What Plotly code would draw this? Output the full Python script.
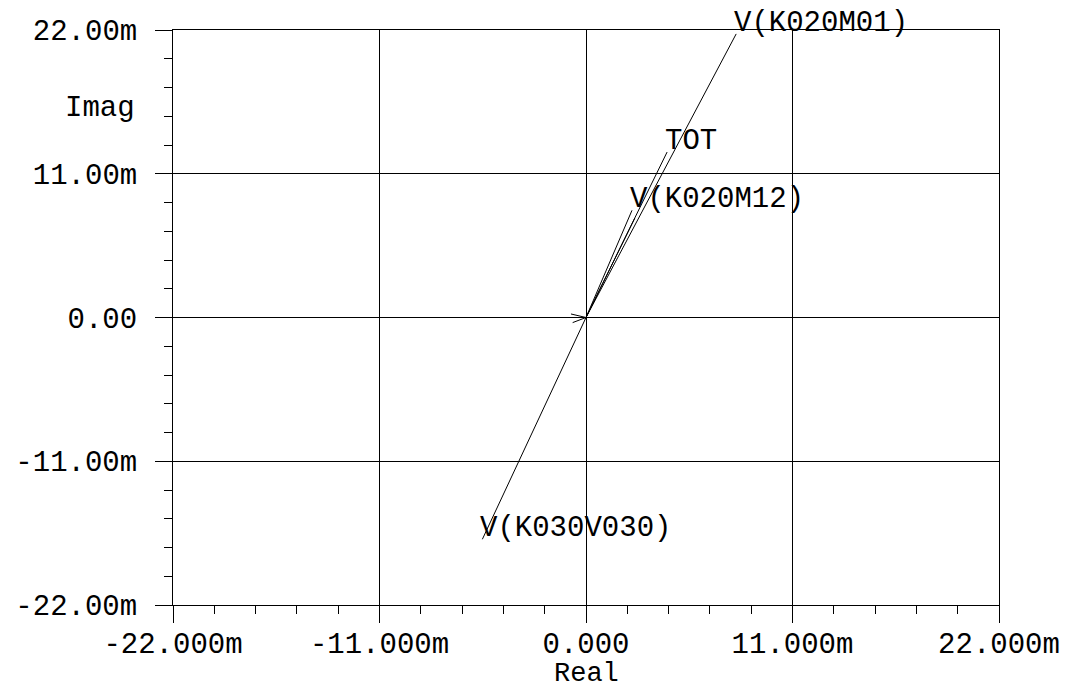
import plotly.graph_objects as go

# Phasor end points (units: milli-volts, "m")
vector_names = ["V(K020M01)", "TOT", "V(K020M12)", "", "V(K030V030)"]
vector_real = [8.0, 4.32, 2.45, 2.6, -5.52]
vector_imag = [21.7, 12.66, 8.2, 7.6, -16.97]

# small chevron drawn at the origin
origin_mark_real = [-0.8, 0.0, -0.71]
origin_mark_imag = [0.27, 0.0, -0.39]

x_tickvals = [-22, -11, 0, 11, 22]
x_ticktext = ["-22.000m", "-11.000m", "0.000", "11.000m", "22.000m"]
y_tickvals = [-22, -11, 0, 11, 22]
y_ticktext = ["-22.00m", "-11.00m", "0.00", "11.00m", "22.00m"]

FONT = "Liberation Mono, Courier New, monospace"
FS = 29

fig = go.Figure()
for name, xr, yi in zip(vector_names, vector_real, vector_imag):
    fig.add_trace(go.Scatter(x=[0, xr], y=[0, yi], mode="lines",
                             line=dict(color="black", width=1),
                             showlegend=False, hoverinfo="skip"))
fig.add_trace(go.Scatter(x=origin_mark_real, y=origin_mark_imag, mode="lines",
                         line=dict(color="black", width=1),
                         showlegend=False, hoverinfo="skip"))

for name, xr, yi in zip(vector_names, vector_real, vector_imag):
    if name:
        fig.add_annotation(x=xr, y=yi, text=name, showarrow=False, borderpad=0,
                           xanchor="left", yanchor="bottom", yshift=-7, xshift=-3,
                           font=dict(family=FONT, size=FS, color="black"))

fig.add_annotation(xref="paper", yref="paper", x=-0.088, y=0.864, text="Imag",
                   showarrow=False, xanchor="center", yanchor="middle",
                   font=dict(family=FONT, size=FS, color="black"))
fig.add_annotation(xref="paper", yref="paper", x=0.5, y=-0.12, text="Real",
                   showarrow=False, xanchor="center", yanchor="middle", borderpad=0,
                   font=dict(family=FONT, size=FS - 2, color="black"))

axis_common = dict(
    showgrid=True, gridcolor="black", gridwidth=1,
    showline=True, linecolor="black", linewidth=1, mirror=True,
    zeroline=False, ticks="outside", ticklen=17, tickcolor="black", tickwidth=1,
    tickfont=dict(family=FONT, size=FS, color="black"),
    automargin=False,
    minor=dict(ticks="outside", ticklen=8, dtick=2.2, tickcolor="black", tickwidth=1, showgrid=False),
)

fig.update_xaxes(range=[-22, 22], tickvals=x_tickvals, ticktext=x_ticktext,
                 ticklabelstandoff=-5, **axis_common)
fig.update_yaxes(range=[-22, 22], tickvals=y_tickvals, ticktext=y_ticktext,
                 ticklabelstandoff=12, **axis_common)

fig.update_layout(
    width=1069, height=691,
    margin=dict(l=165, r=78, t=22, b=94),
    paper_bgcolor="white", plot_bgcolor="white",
    font=dict(family=FONT, size=FS, color="black"),
)

fig.write_html("out.html")
